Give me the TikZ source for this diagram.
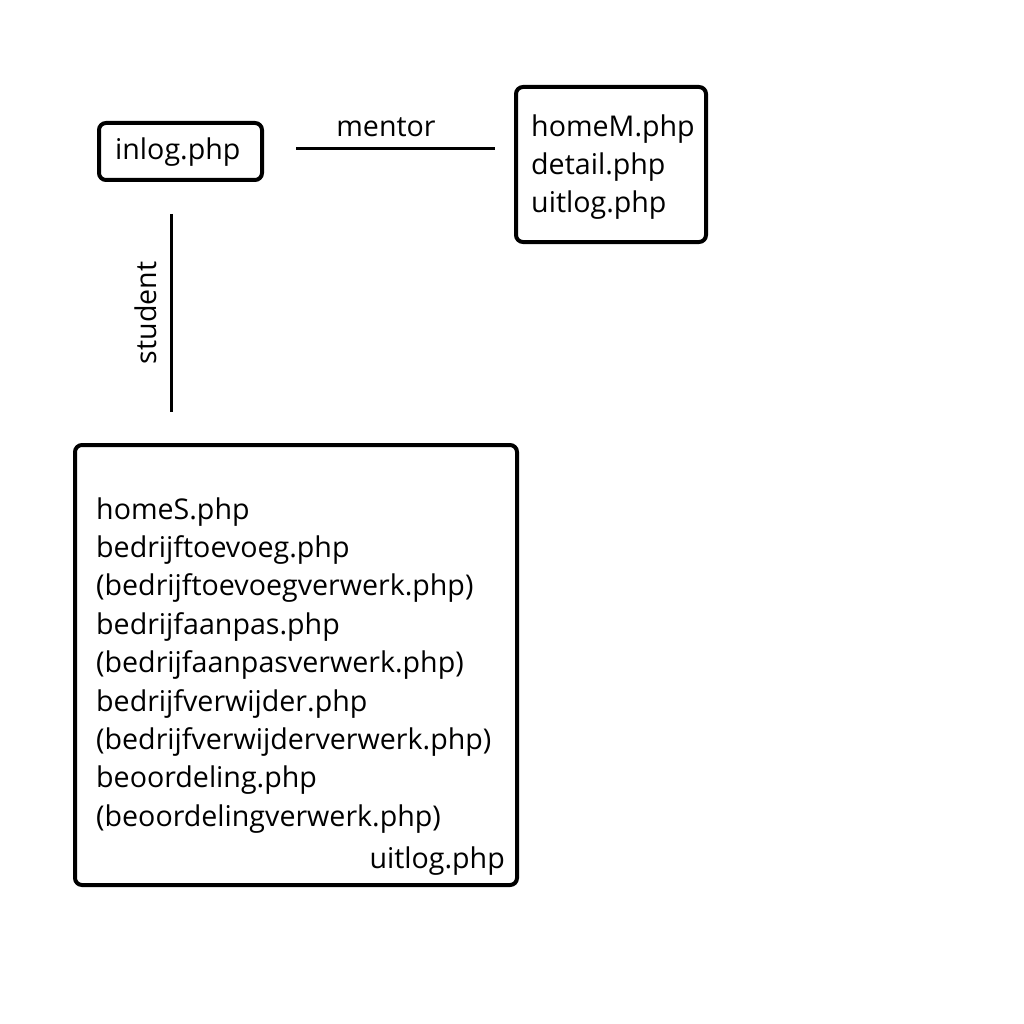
\documentclass[tikz,border=0pt]{standalone}
\usepackage{fontspec}
\setmainfont{Open Sans}
\begin{document}
\begin{tikzpicture}[x=1pt,y=-1pt,
  box/.style={draw,line width=4pt,rounded corners=7pt,inner sep=0pt},
  conn/.style={line width=3pt},
  txt/.style={inner sep=0pt,anchor=base west,font=\fontsize{28.6}{32}\selectfont},
  txtr/.style={inner sep=0pt,anchor=base east,font=\fontsize{28.6}{32}\selectfont}]
\useasboundingbox[fill=white] (0,0) rectangle (1024,1024);
% boxes
\node[box,minimum width=163pt,minimum height=57pt] (inlog) at (180.5,151.5) {};
\node[box,minimum width=190pt,minimum height=155pt] (mentorbox) at (611,164.5) {};
\node[box,minimum width=442pt,minimum height=440pt] (studentbox) at (296,665) {};
% texts
\node[txt] (tinlog) at (115,160) {inlog.php};
\node[txt] (m1) at (531,137) {homeM.php};
\node[txt] (m2) at (531,175) {detail.php};
\node[txt] (m3) at (531,213) {uitlog.php};
\node[txt] (s1) at (96,519) {homeS.php};
\node[txt] (s2) at (96,557.4) {bedrijftoevoeg.php};
\node[txt] (s3) at (96,595.8) {(bedrijftoevoegverwerk.php)};
\node[txt] (s4) at (96,634.2) {bedrijfaanpas.php};
\node[txt] (s5) at (96,672.6) {(bedrijfaanpasverwerk.php)};
\node[txt] (s6) at (96,711) {bedrijfverwijder.php};
\node[txt] (s7) at (96,749.4) {(bedrijfverwijderverwerk.php)};
\node[txt] (s8) at (96,787.8) {beoordeling.php};
\node[txt] (s9) at (96,826.2) {(beoordelingverwerk.php)};
\node[txtr] (s10) at (505,868) {uitlog.php};
% connectors
\coordinate (ma) at (296,149);
\coordinate (mb) at (495,149);
\coordinate (sa) at (171,214);
\coordinate (sb) at (171,412);
\draw[conn] (ma) -- (mb);
\draw[conn] (sa) -- (sb);
\node[inner sep=0pt,anchor=base,font=\fontsize{28.6}{32}\selectfont] (lm) at (386,137) {mentor};
\node[inner sep=0pt,anchor=base,rotate=90,font=\fontsize{28.6}{32}\selectfont] (ls) at (156,313) {student};
\end{tikzpicture}
\end{document}
